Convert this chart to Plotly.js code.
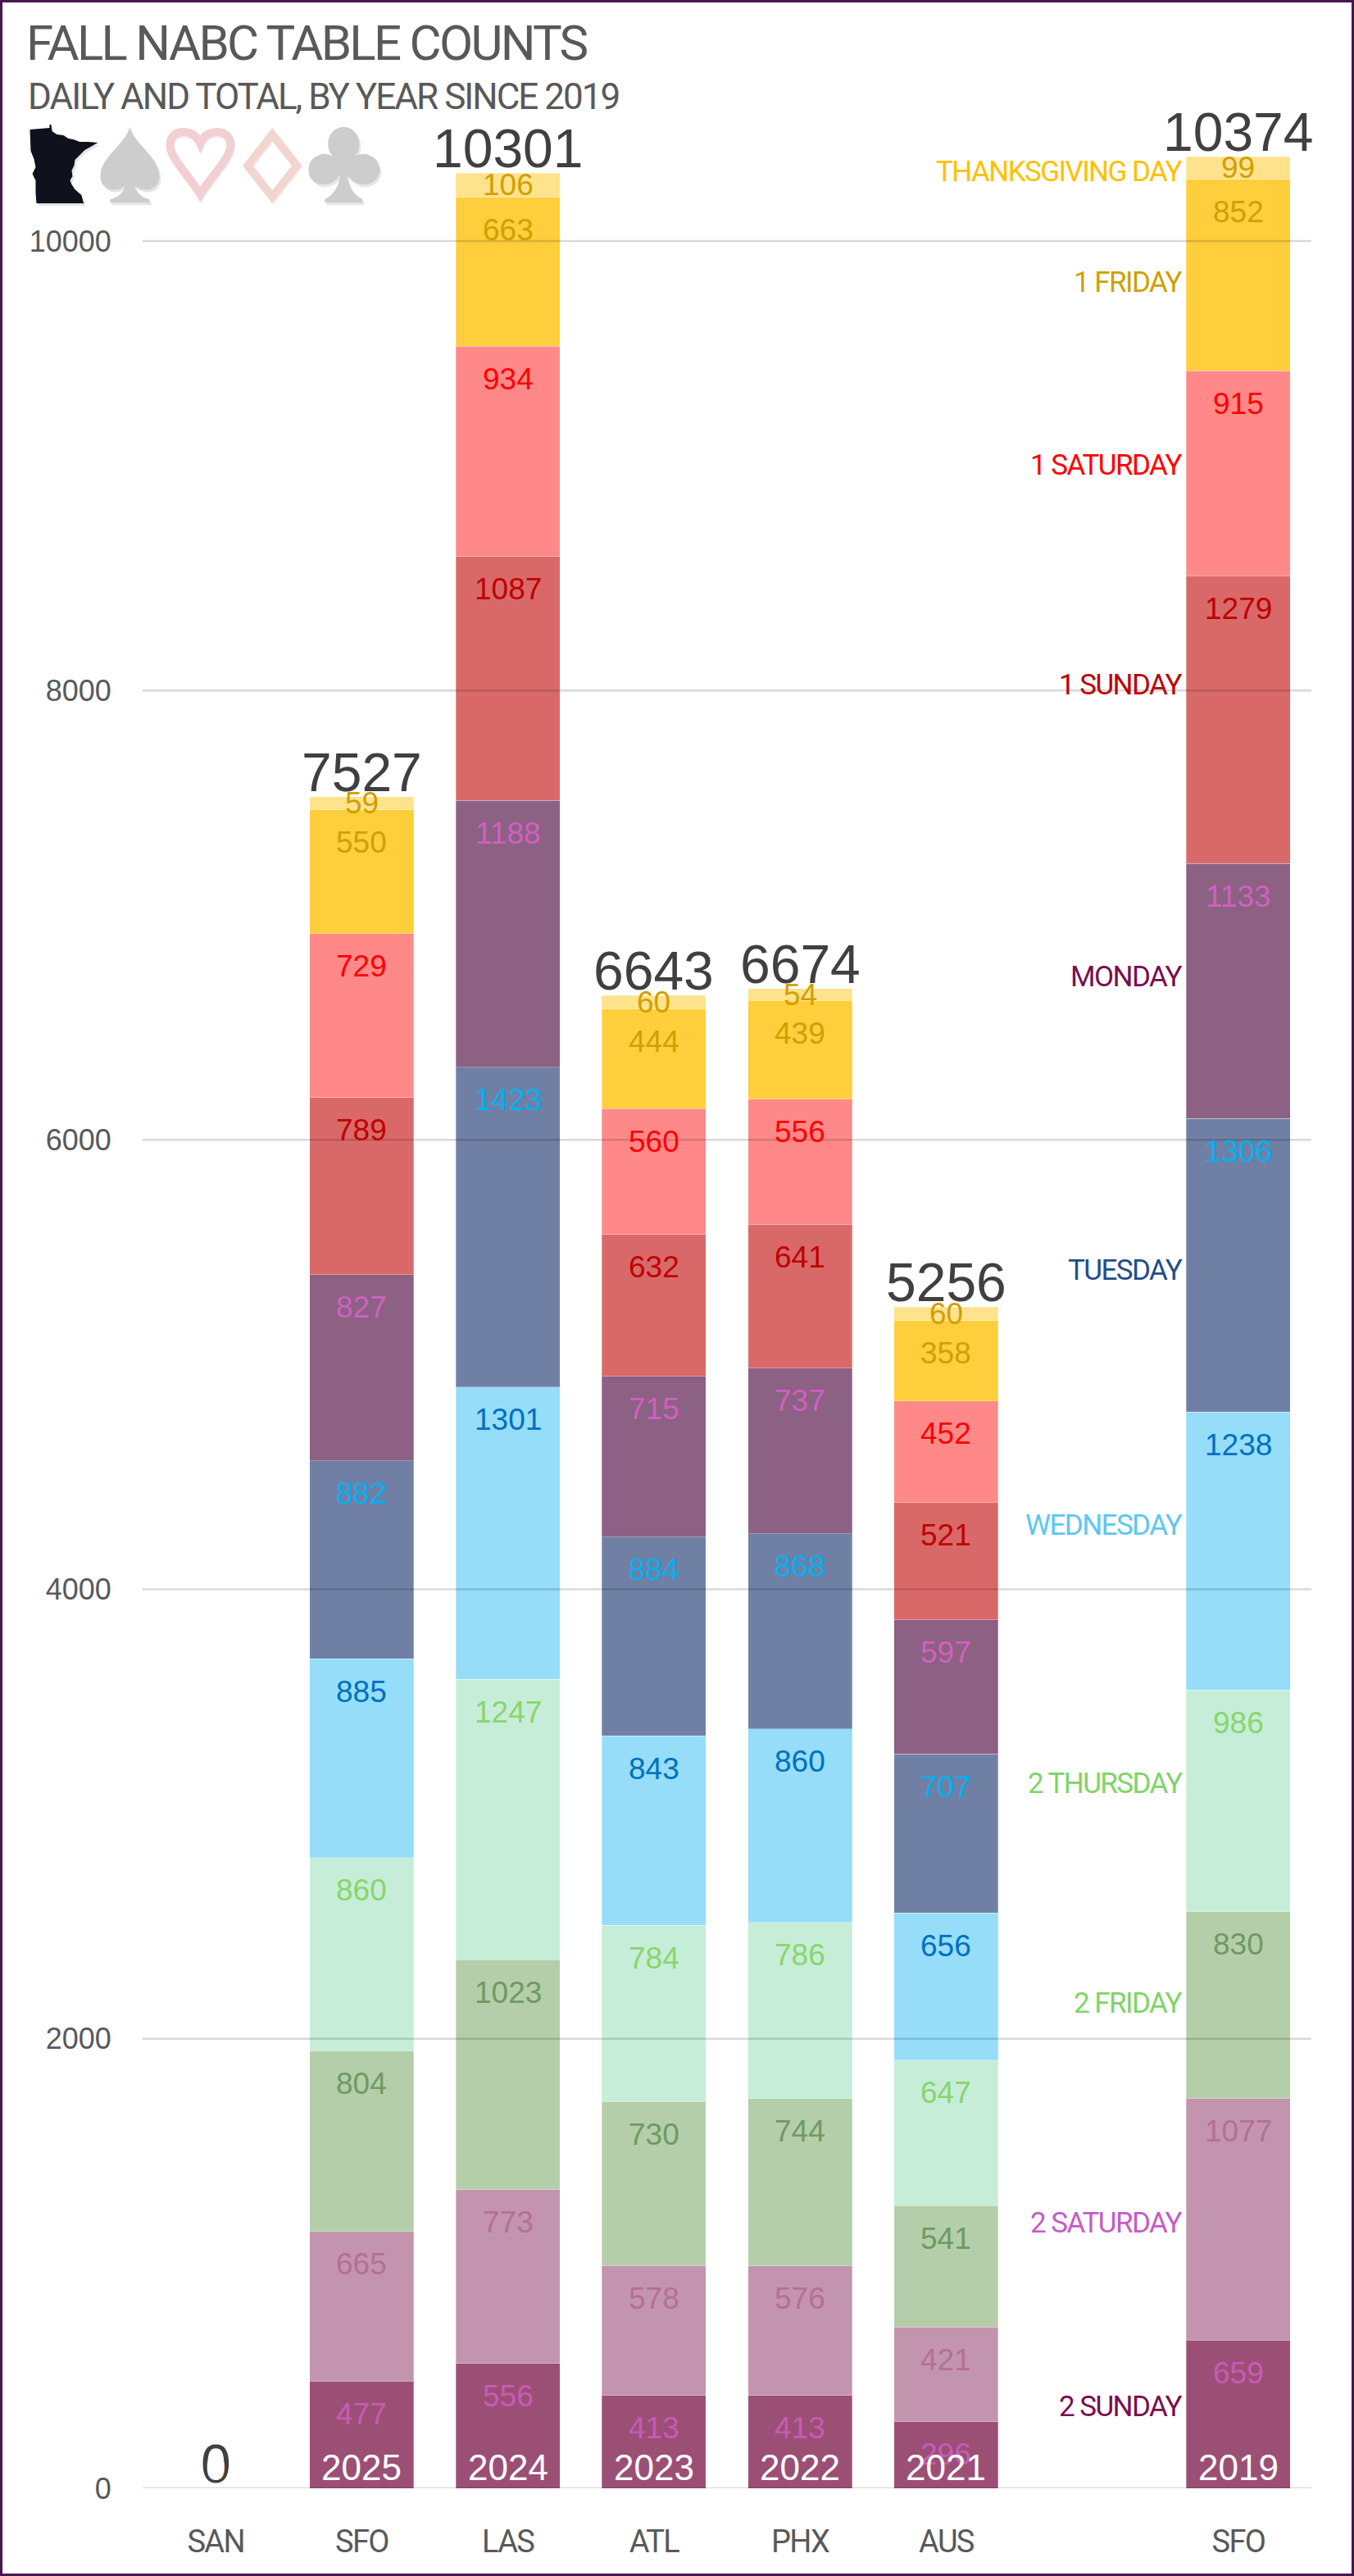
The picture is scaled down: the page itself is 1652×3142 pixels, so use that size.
<!DOCTYPE html>
<html>
<head>
<meta charset="utf-8">
<script src="https://cdn.plot.ly/plotly-3.0.1.min.js"></script>
<style>
  html, body { margin: 0; padding: 0; background: #fff; }
  #myDiv { width: 1652px; height: 3142px; }
  #frame { position: absolute; left: 0; top: 0; width: 1652px; height: 3142px; box-sizing: border-box;
           border: 3px solid #4b1650; pointer-events: none; }
  /* no narrow face installed, so tighten the caps text */
  text[style*="Roboto"] { letter-spacing: -0.045em; }
</style>
</head>
<body>
<div id="myDiv"></div>
<div id="frame"></div>

<script>
// one slot per column, 2020 stays empty
var years = ['SAN', '2025', '2024', '2023', '2022', '2021', '2020', '2019'];
var airports = ['SAN', 'SFO', 'LAS', 'ATL', 'PHX', 'AUS', '', 'SFO'];
var yearLabels = ['0', '2025', '2024', '2023', '2022', '2021', '', '2019'];

// bottom of the stack first
var sunday2 =  [0, 477, 556, 413, 413, 296, null, 659];
var saturday2 = [0, 665, 773, 578, 576, 421, null, 1077];
var friday2 =  [0, 804, 1023, 730, 744, 541, null, 830];
var thursday2 = [0, 860, 1247, 784, 786, 647, null, 986];
var wednesday = [0, 885, 1301, 843, 860, 656, null, 1238];
var tuesday =  [0, 882, 1423, 884, 868, 707, null, 1306];
var monday =   [0, 827, 1188, 715, 737, 597, null, 1133];
var sunday1 =  [0, 789, 1087, 632, 641, 521, null, 1279];
var saturday1 = [0, 729, 934, 560, 556, 452, null, 915];
var friday1 =  [0, 550, 663, 444, 439, 358, null, 852];
var thanksgiving = [0, 59, 106, 60, 54, 60, null, 99];

var seriesNames = ['2 SUNDAY', '2 SATURDAY', '2 FRIDAY', '2 THURSDAY', 'WEDNESDAY', 'TUESDAY',
                   'MONDAY', '1 SUNDAY', '1 SATURDAY', '1 FRIDAY', 'THANKSGIVING DAY'];
var seriesValues = [sunday2, saturday2, friday2, thursday2, wednesday, tuesday,
                    monday, sunday1, saturday1, friday1, thanksgiving];
var yTicks = [0, 2000, 4000, 6000, 8000, 10000];

// styles
var barColors = ['#9c4f75', '#c394ae', '#b4ceaa', '#c6edd8', '#95ddf9', '#7080a5',
                 '#8c6183', '#d96969', '#ff8989', '#ffce3c', '#ffe28c'];
var valueColors = ['#c65bb5', '#b56f96', '#6f9a62', '#88d66c', '#0070c0', '#00b0f0',
                   '#d060c0', '#c00000', '#ff0000', '#d0a000', '#d0a000'];
var nameColors = ['#7b0e4e', '#c75cc5', '#80d468', '#80d468', '#5bc8f2', '#1f4e8c',
                  '#7b0e4e', '#c00000', '#ff0000', '#cfa000', '#ffc000'];
var namePixelY = [2935, 2711, 2443, 2175, 1861, 1549, 1191, 835, 567, 345, 209];

var plotL = 173.6, plotR = 1600.4, plotT = 150, plotB = 3035;
var W = 1652, H = 3142;
var yMax = 10525;
var CAPS = 'Roboto, "Liberation Sans", sans-serif';
var SANS = '"Liberation Sans", sans-serif';

function paperX(px) { return (px - plotL) / (plotR - plotL); }
function paperY(py) { return (plotB - py) / (plotB - plotT); }

var data = [];
var annotations = [];
var running = years.map(function () { return 0; });

seriesValues.forEach(function (vals, s) {
  data.push({
    type: 'bar',
    name: seriesNames[s],
    x: years,
    y: vals,
    marker: { color: barColors[s], line: { color: 'rgba(255,255,255,0.3)', width: 1 } },
    hoverinfo: 'x+y+name'
  });
  vals.forEach(function (v, i) {
    if (!v) return;
    running[i] += v;
    var isTop = s === seriesValues.length - 1;  // the thin top band is centred, the rest sit inside end
    annotations.push({
      x: i, y: isTop ? running[i] - v / 2 : running[i], yshift: isTop ? 0 : -40,
      xref: 'x', yref: 'y', yanchor: 'middle', showarrow: false, text: String(v),
      font: { family: SANS, size: 37, color: valueColors[s] }
    });
  });
});

// totals and year labels
years.forEach(function (yr, i) {
  if (!airports[i]) return;
  annotations.push({
    x: i, y: running[i], yshift: 30, xref: 'x', yref: 'y', yanchor: 'middle', showarrow: false,
    text: String(running[i]), font: { family: SANS, size: 66, color: '#404040' }
  });
});
years.forEach(function (yr, i) {
  if (!airports[i]) return;
  annotations.push({
    x: i, y: 0, yshift: 26, xref: 'x', yref: 'y', yanchor: 'middle', showarrow: false,
    text: yearLabels[i], font: { family: SANS, size: 44, color: '#ffffff' }
  });
});

// series names next to the 2019 column
seriesNames.forEach(function (nm, s) {
  annotations.push({
    x: paperX(1445), y: paperY(namePixelY[s]), xref: 'paper', yref: 'paper',
    xanchor: 'right', yanchor: 'middle', showarrow: false, text: nm,
    font: { family: CAPS, size: 35, color: nameColors[s] }
  });
});

annotations.push({
  x: paperX(32), y: paperY(118), xref: 'paper', yref: 'paper', xanchor: 'left', yanchor: 'middle',
  showarrow: false, text: 'DAILY AND TOTAL, BY YEAR SINCE 2019',
  font: { family: CAPS, size: 44, color: '#595959' }
});

// gridlines go over the bars, they darken them in the original
var shapes = yTicks.map(function (t) {
  return { type: 'line', xref: 'paper', x0: 0, x1: 1, yref: 'y', y0: t, y1: t, layer: 'above',
           line: { color: 'rgba(0,0,0,0.15)', width: 2.5 } };
});

// minnesota + card suits
function svgImage(w, h, body, px, py) {
  var svg = '<svg xmlns="http://www.w3.org/2000/svg" width="' + w + '" height="' + h +
            '" viewBox="0 0 ' + w + ' ' + h + '">' + body + '</svg>';
  return {
    source: 'data:image/svg+xml;utf8,' + encodeURIComponent(svg),
    xref: 'paper', yref: 'paper', x: paperX(px), y: paperY(py),
    sizex: w / (plotR - plotL), sizey: h / (plotB - plotT),
    xanchor: 'left', yanchor: 'top', sizing: 'stretch', layer: 'above'
  };
}
function shadowed(d, fill) {
  return '<path d="' + d + '" transform="translate(2,3)" fill="rgba(0,0,0,0.10)"/>' +
         '<path d="' + d + '" fill="' + fill + '"/>';
}
function outlined(d, stroke) {
  return '<path d="' + d + '" transform="translate(1,2)" fill="none" stroke="rgba(0,0,0,0.06)" stroke-width="10"/>' +
         '<path d="' + d + '" fill="none" stroke="' + stroke + '" stroke-width="10"/>';
}
var mnPath = 'M5 8 L29 6 L29 2 L31 2 L32 10 L38 14 L46 15 L52 19 L58 20 L66 23 L76 23 L88 24 L72 33 L60 45 L59 52 L56 58 L57 65 L54 70 L56 75 L60 81 L68 88 L70 96 L71 98 L13 98 L12 85 L12 70 L8 62 L12 54 L10 44 L6 34 Z';
var spadePath = 'M36 0 C42 22 72 36 72 60 C72 74 58 82 42 72 C44 80 50 86 60 88 L60 92 L12 92 L12 88 C22 86 28 80 30 72 C14 82 0 74 0 60 C0 36 30 22 36 0 Z';
var heartPath = 'M43 82 C30 60 6 38 6 22 C6 11 14 6 22 6 C32 6 39 11 43 20 C47 11 54 6 64 6 C72 6 80 11 80 22 C80 38 56 60 43 82 Z';
var diamondPath = 'M36 8 L66 46 L36 84 L6 46 Z';
var clubPath = 'M43 0 C55 0 62 10 62 20 C62 26 60 32 56 36 C60 33 66 32 70 33 C80 35 87 42 87 52 C87 64 76 70 68 70 C60 70 52 66 47 58 C49 72 54 82 66 88 L66 92 L20 92 L20 88 C32 82 37 72 39 58 C34 66 26 70 18 70 C10 70 0 64 0 52 C0 42 7 35 17 33 C21 32 26 33 30 36 C26 32 24 26 24 20 C24 10 31 0 43 0 Z';

var images = [
  svgImage(94, 104, shadowed(mnPath, '#0f111c'), 31, 150),
  svgImage(76, 98, shadowed(spadePath, '#cdcdcd'), 122, 155),
  svgImage(90, 96, outlined(heartPath, '#f2cfd2'), 201, 155),
  svgImage(74, 96, outlined(diamondPath, '#f3d5d0'), 296, 156),
  svgImage(92, 98, shadowed(clubPath, '#cdcdcd'), 376, 155)
];

var layout = {
  width: W, height: H,
  margin: { l: plotL, r: W - plotR, t: plotT, b: H - plotB, pad: 0 },
  paper_bgcolor: '#ffffff', plot_bgcolor: '#ffffff',
  showlegend: false,
  barmode: 'stack',
  bargap: 0.287,
  title: {
    text: 'FALL NABC TABLE COUNTS', xref: 'container', yref: 'container',
    x: 32 / W, xanchor: 'left', y: 1 - 52 / H, yanchor: 'middle',
    font: { family: CAPS, size: 60, color: '#595959' }
  },
  xaxis: {
    type: 'category', categoryorder: 'array', categoryarray: years,
    tickmode: 'array', tickvals: years, ticktext: airports,
    range: [-0.5, 7.5], showgrid: false, zeroline: false, showline: false,
    ticks: 'outside', ticklen: 31, tickcolor: 'rgba(0,0,0,0)',
    tickfont: { family: CAPS, size: 38, color: '#595959' }
  },
  yaxis: {
    range: [0, yMax], tickmode: 'array', tickvals: yTicks, tickformat: 'd',
    showgrid: false, zeroline: false, showline: false,
    ticks: 'outside', ticklen: 30, tickcolor: 'rgba(0,0,0,0)',
    tickfont: { family: SANS, size: 36, color: '#595959' }
  },
  shapes: shapes,
  annotations: annotations,
  images: images
};

Plotly.newPlot('myDiv', data, layout, { displayModeBar: false, responsive: false });
</script>
</body>
</html>
